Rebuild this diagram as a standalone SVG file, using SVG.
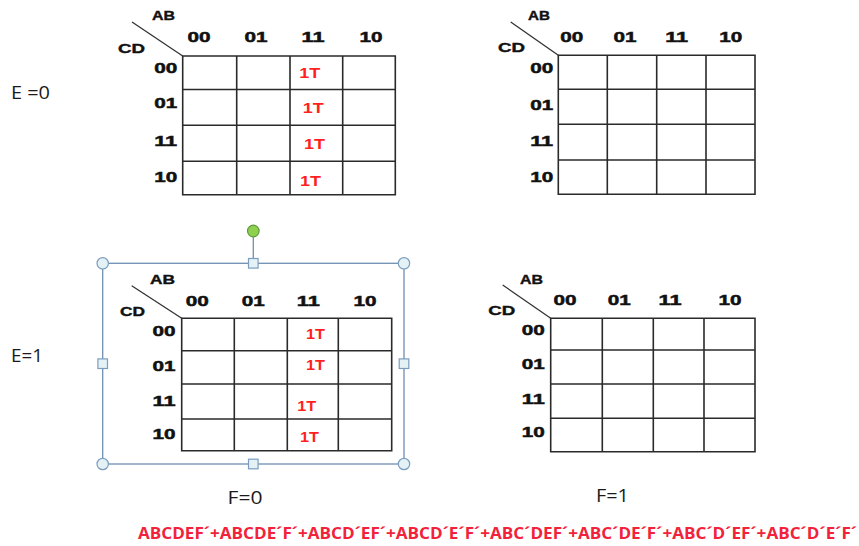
<svg xmlns="http://www.w3.org/2000/svg" width="859" height="546" viewBox="0 0 859 546">
<defs>
<style>
.grid{fill:none;stroke:#2a2a2a;stroke-width:1.6}
.diag{stroke:#333;stroke-width:1.3;fill:none}
.hd{font-family:"Liberation Sans",Arial,sans-serif;font-weight:bold;font-size:15px;fill:#111;stroke:#111;stroke-width:0.5;text-anchor:middle}
.var{font-family:"Liberation Sans",Arial,sans-serif;font-weight:bold;font-size:13.5px;fill:#111;stroke:#111;stroke-width:0.4}
.one{font-family:"Liberation Sans",Arial,sans-serif;font-size:15.5px;fill:#ff1f1f;font-weight:bold}
.lbl{font-family:"Open Sans","Liberation Sans",sans-serif;font-size:19px;fill:#1a1a1a}
.expr{font-family:"Open Sans","Liberation Sans",sans-serif;font-weight:bold;font-size:16.5px;fill:#f2223a}
.sel{fill:none;stroke:#6f8fb3;stroke-width:1.3}
.hc{fill:#e4f2f6;stroke:#7c9dbd;stroke-width:1.2}
</style>
</defs>
<rect width="859" height="546" fill="#fff"/>

<g id="label-e0"><text class="lbl" x="11" y="98.5" textLength="39" lengthAdjust="spacingAndGlyphs">E =0</text></g>
<g id="label-e1"><text class="lbl" x="11" y="362" textLength="32" lengthAdjust="spacingAndGlyphs">E=1</text></g>
<g id="label-f0"><text class="lbl" x="227.5" y="503.5" textLength="35" lengthAdjust="spacingAndGlyphs">F=0</text></g>
<g id="label-f1"><text class="lbl" x="596" y="501.5" textLength="33" lengthAdjust="spacingAndGlyphs">F=1</text></g>

<!-- Top-left map -->
<g id="kmap-e0-f0">
<path class="grid" d="M182.7 56H395.3V194.7H182.7Z M236.7 56V194.7 M290 56V194.7 M342.7 56V194.7 M182.7 89.5H395.3 M182.7 125.3H395.3 M182.7 161.3H395.3"/>
<line class="diag" x1="132" y1="22" x2="182.7" y2="56"/>
<text class="var" x="152" y="19.5" textLength="23" lengthAdjust="spacingAndGlyphs">AB</text>
<text class="var" x="118" y="52.5" textLength="27" lengthAdjust="spacingAndGlyphs">CD</text>
<text class="hd" x="199" y="42" textLength="23" lengthAdjust="spacingAndGlyphs">00</text>
<text class="hd" x="256" y="42" textLength="23" lengthAdjust="spacingAndGlyphs">01</text>
<text class="hd" x="313" y="42" textLength="23" lengthAdjust="spacingAndGlyphs">11</text>
<text class="hd" x="371" y="42" textLength="23" lengthAdjust="spacingAndGlyphs">10</text>
<text class="hd" x="165.7" y="72.5" textLength="23" lengthAdjust="spacingAndGlyphs">00</text>
<text class="hd" x="165.7" y="108" textLength="23" lengthAdjust="spacingAndGlyphs">01</text>
<text class="hd" x="165.7" y="145.5" textLength="23" lengthAdjust="spacingAndGlyphs">11</text>
<text class="hd" x="165.7" y="181.5" textLength="23" lengthAdjust="spacingAndGlyphs">10</text>
<text class="one" x="299.3" y="78" textLength="21" lengthAdjust="spacingAndGlyphs">1T</text>
<text class="one" x="302.7" y="113.3" textLength="21" lengthAdjust="spacingAndGlyphs">1T</text>
<text class="one" x="304" y="148.7" textLength="21" lengthAdjust="spacingAndGlyphs">1T</text>
<text class="one" x="300" y="186.3" textLength="21" lengthAdjust="spacingAndGlyphs">1T</text>
</g>

<!-- Top-right map -->
<g id="kmap-e0-f1">
<path class="grid" d="M558.3 55.3H755V194.3H558.3Z M607.3 55.3V194.3 M656.7 55.3V194.3 M706 55.3V194.3 M558.3 89.3H755 M558.3 124.3H755 M558.3 160H755"/>
<line class="diag" x1="510.7" y1="22" x2="558.3" y2="55.3"/>
<text class="var" x="528" y="19.5" textLength="22" lengthAdjust="spacingAndGlyphs">AB</text>
<text class="var" x="498" y="52" textLength="27" lengthAdjust="spacingAndGlyphs">CD</text>
<text class="hd" x="571.7" y="42" textLength="23" lengthAdjust="spacingAndGlyphs">00</text>
<text class="hd" x="625" y="42" textLength="23" lengthAdjust="spacingAndGlyphs">01</text>
<text class="hd" x="676.7" y="42" textLength="23" lengthAdjust="spacingAndGlyphs">11</text>
<text class="hd" x="730.7" y="42" textLength="23" lengthAdjust="spacingAndGlyphs">10</text>
<text class="hd" x="541.7" y="72.5" textLength="23" lengthAdjust="spacingAndGlyphs">00</text>
<text class="hd" x="541.7" y="109.5" textLength="23" lengthAdjust="spacingAndGlyphs">01</text>
<text class="hd" x="541.7" y="146" textLength="23" lengthAdjust="spacingAndGlyphs">11</text>
<text class="hd" x="541.7" y="182" textLength="23" lengthAdjust="spacingAndGlyphs">10</text>
</g>

<!-- Selection frame -->
<g id="selection-frame">
<rect class="sel" x="102.7" y="263.3" width="301.3" height="200.7"/>
<line class="sel" x1="253.3" y1="237" x2="253.3" y2="258.5"/>
<circle cx="253.3" cy="231" r="5.8" fill="#8fd14f" stroke="#5e9a3c" stroke-width="1.2"/>
<circle class="hc" cx="102.7" cy="263.3" r="5.7"/>
<circle class="hc" cx="404" cy="263.3" r="5.7"/>
<circle class="hc" cx="102.7" cy="464" r="5.7"/>
<circle class="hc" cx="404" cy="464" r="5.7"/>
<rect class="hc" x="248.5" y="258.5" width="9.6" height="9.6"/>
<rect class="hc" x="248.5" y="459.2" width="9.6" height="9.6"/>
<rect class="hc" x="97.9" y="358.9" width="9.6" height="9.6"/>
<rect class="hc" x="399.2" y="358.9" width="9.6" height="9.6"/>
</g>

<!-- Bottom-left map -->
<g id="kmap-e1-f0">
<path class="grid" d="M181.7 318.3H391.7V450.7H181.7Z M234.3 318.3V450.7 M287.3 318.3V450.7 M338.3 318.3V450.7 M181.7 350.7H391.7 M181.7 384H391.7 M181.7 419H391.7"/>
<line class="diag" x1="131.7" y1="285.7" x2="181.7" y2="318.3"/>
<text class="var" x="150" y="283.5" textLength="25" lengthAdjust="spacingAndGlyphs">AB</text>
<text class="var" x="120" y="315.5" textLength="25" lengthAdjust="spacingAndGlyphs">CD</text>
<text class="hd" x="197.3" y="305.5" textLength="23" lengthAdjust="spacingAndGlyphs">00</text>
<text class="hd" x="253.3" y="305.5" textLength="23" lengthAdjust="spacingAndGlyphs">01</text>
<text class="hd" x="308.3" y="305.5" textLength="23" lengthAdjust="spacingAndGlyphs">11</text>
<text class="hd" x="365" y="305.5" textLength="23" lengthAdjust="spacingAndGlyphs">10</text>
<text class="hd" x="164" y="335.5" textLength="23" lengthAdjust="spacingAndGlyphs">00</text>
<text class="hd" x="164" y="370.5" textLength="23" lengthAdjust="spacingAndGlyphs">01</text>
<text class="hd" x="164" y="405.5" textLength="23" lengthAdjust="spacingAndGlyphs">11</text>
<text class="hd" x="164" y="438.8" textLength="23" lengthAdjust="spacingAndGlyphs">10</text>
<text class="one" x="306" y="339" textLength="19" lengthAdjust="spacingAndGlyphs">1T</text>
<text class="one" x="306" y="369.7" textLength="19" lengthAdjust="spacingAndGlyphs">1T</text>
<text class="one" x="297.3" y="410.7" textLength="19" lengthAdjust="spacingAndGlyphs">1T</text>
<text class="one" x="300" y="442.4" textLength="19" lengthAdjust="spacingAndGlyphs">1T</text>
</g>

<!-- Bottom-right map -->
<g id="kmap-e1-f1">
<path class="grid" d="M550.7 318.3H755V451.7H550.7Z M602.3 318.3V451.7 M653.3 318.3V451.7 M704 318.3V451.7 M550.7 350H755 M550.7 384H755 M550.7 418.3H755"/>
<line class="diag" x1="502.7" y1="285" x2="550.7" y2="318.3"/>
<text class="var" x="520" y="283.5" textLength="23" lengthAdjust="spacingAndGlyphs">AB</text>
<text class="var" x="488.3" y="314.5" textLength="27" lengthAdjust="spacingAndGlyphs">CD</text>
<text class="hd" x="565" y="304.5" textLength="23" lengthAdjust="spacingAndGlyphs">00</text>
<text class="hd" x="619.3" y="304.5" textLength="23" lengthAdjust="spacingAndGlyphs">01</text>
<text class="hd" x="670" y="304.5" textLength="23" lengthAdjust="spacingAndGlyphs">11</text>
<text class="hd" x="730" y="304.5" textLength="23" lengthAdjust="spacingAndGlyphs">10</text>
<text class="hd" x="533.3" y="334.5" textLength="23" lengthAdjust="spacingAndGlyphs">00</text>
<text class="hd" x="533.3" y="368.8" textLength="23" lengthAdjust="spacingAndGlyphs">01</text>
<text class="hd" x="533.3" y="403.8" textLength="23" lengthAdjust="spacingAndGlyphs">11</text>
<text class="hd" x="533.3" y="437.2" textLength="23" lengthAdjust="spacingAndGlyphs">10</text>
</g>

<g id="expression">
<text class="expr" x="138" y="539" textLength="719" lengthAdjust="spacingAndGlyphs">ABCDEF´+ABCDE´F´+ABCD´EF´+ABCD´E´F´+ABC´DEF´+ABC´DE´F´+ABC´D´EF´+ABC´D´E´F´</text>
</g>
</svg>
